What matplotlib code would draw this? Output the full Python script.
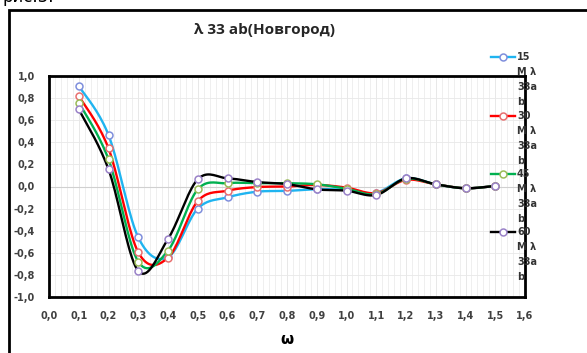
import numpy as np
import matplotlib
matplotlib.use("Agg")
import matplotlib.pyplot as plt
from matplotlib.lines import Line2D
from matplotlib.patches import Rectangle

omega = [0.1, 0.2, 0.3, 0.4, 0.5, 0.6, 0.7, 0.8, 0.9, 1.0, 1.1, 1.2, 1.3, 1.4, 1.5]
s15 = [0.91, 0.466, -0.46, -0.64, -0.20, -0.098, -0.047, -0.04, -0.025, -0.03, -0.056, 0.074, 0.02, -0.016, 0.005]
s30 = [0.82, 0.345, -0.595, -0.645, -0.132, -0.038, -0.005, 0.0, 0.014, -0.01, -0.06, 0.06, 0.02, -0.016, 0.005]
s45 = [0.76, 0.246, -0.68, -0.58, -0.026, 0.03, 0.03, 0.03, 0.02, -0.02, -0.07, 0.07, 0.02, -0.016, 0.005]
s60 = [0.70, 0.156, -0.765, -0.475, 0.065, 0.074, 0.04, 0.022, -0.026, -0.038, -0.077, 0.074, 0.02, -0.016, 0.005]
labels = ["15", "30", "45", "60"]
x_ticks = [0.0, 0.1, 0.2, 0.3, 0.4, 0.5, 0.6, 0.7, 0.8, 0.9, 1.0, 1.1, 1.2, 1.3, 1.4, 1.5, 1.6]
y_ticks = [-1.0, -0.8, -0.6, -0.4, -0.2, 0.0, 0.2, 0.4, 0.6, 0.8, 1.0]

line_colors = ["#1fb4f0", "#ff0000", "#00b050", "#000000"]
marker_edges = ["#7f8fdc", "#e87070", "#9bbb59", "#9a82c8"]

def smooth(x, y, n=20):
    x = np.asarray(x, float); y = np.asarray(y, float)
    px = np.concatenate([[x[0]], x, [x[-1]]])
    py = np.concatenate([[y[0]], y, [y[-1]]])
    xs, ys = [], []
    t = np.linspace(0, 1, n)
    for i in range(1, len(px) - 2):
        p0, p1, p2, p3 = (np.array([px[j], py[j]]) for j in (i - 1, i, i + 1, i + 2))
        c1 = p1 + (p2 - p0) / 6
        c2 = p2 - (p3 - p1) / 6
        b = ((1 - t) ** 3)[:, None] * p1 + (3 * (1 - t) ** 2 * t)[:, None] * c1 + \
            (3 * (1 - t) * t ** 2)[:, None] * c2 + (t ** 3)[:, None] * p2
        xs.extend(b[:, 0]); ys.extend(b[:, 1])
    return xs, ys

fig = plt.figure(figsize=(5.87, 3.53), dpi=100)
W, H = 587, 353
ax = fig.add_axes([49 / W, 1 - 297 / H, (525 - 49) / W, (297 - 76) / H])

ax.set_xlim(0, 1.6)
ax.set_ylim(-1, 1)
ax.set_xticks(x_ticks)
ax.set_yticks(y_ticks)
fmt = lambda v: f"{v:.1f}".replace(".", ",")
ax.set_xticklabels([fmt(v) for v in x_ticks])
ax.set_yticklabels([fmt(v) for v in y_ticks])
ax.set_xticks(np.arange(0, 1.6001, 0.02), minor=True)
ax.grid(True, which="minor", axis="x", color="#ececec", lw=0.6)
ax.grid(True, which="major", axis="x", color="#e4e4e4", lw=0.6)
ax.grid(True, which="major", axis="y", color="#e8e8e8", lw=0.6)
ax.axhline(0, color="#d0d0d0", lw=0.8, zorder=1)
ax.tick_params(which="both", length=0, labelsize=7, labelcolor="#404040", pad=10)
for lab in ax.get_xticklabels() + ax.get_yticklabels():
    lab.set_fontweight("bold")
for sp in ax.spines.values():
    sp.set_linewidth(2)
    sp.set_color("black")
ax.set_axisbelow(True)

series = [s15, s30, s45, s60]
for s, lc, me in zip(series, line_colors, marker_edges):
    xs, ys = smooth(omega, s)
    ax.plot(xs, ys, color=lc, lw=1.7, zorder=3, clip_on=False)
    ax.plot(omega, s, ls="none", marker="o", ms=5, mfc="white", mec=me, mew=1.1, zorder=4, clip_on=False)

ax.set_xlabel("ω", fontsize=11, fontweight="bold", labelpad=8)

fig.text(265 / W, 1 - 30 / H, "λ 33 ab(Новгород)", ha="center", va="center",
         fontsize=11, fontweight="bold", family="Open Sans", color="#262626")

# legend (manual, wrapped text like original)
leg_y = [57, 116, 174, 232]
for lab, lc, me, yy in zip(labels, line_colors, marker_edges, leg_y):
    yf = 1 - yy / H
    fig.add_artist(Line2D([491 / W, 515 / W], [yf, yf], color=lc, lw=1.7))
    fig.add_artist(Line2D([503 / W], [yf], marker="o", ms=5, mfc="white", mec=me, mew=1.1, color=lc))
    for k, t in enumerate([lab, "М λ", "33a", "b"]):
        fig.text(517 / W, 1 - (yy + 15 * k) / H, t, ha="left", va="center",
                 fontsize=7, fontweight="bold", color="#333333")

# outer chart frame
fig.add_artist(Rectangle((9 / W, -0.1), 1.2, 1 - 10 / H + 0.1, transform=fig.transFigure,
                         fill=False, ec="black", lw=2))
fig.text(2 / W, 1 - 6 / H, "рис.3.", ha="left", va="bottom", fontsize=12)

fig.savefig("out.png", dpi=100)
